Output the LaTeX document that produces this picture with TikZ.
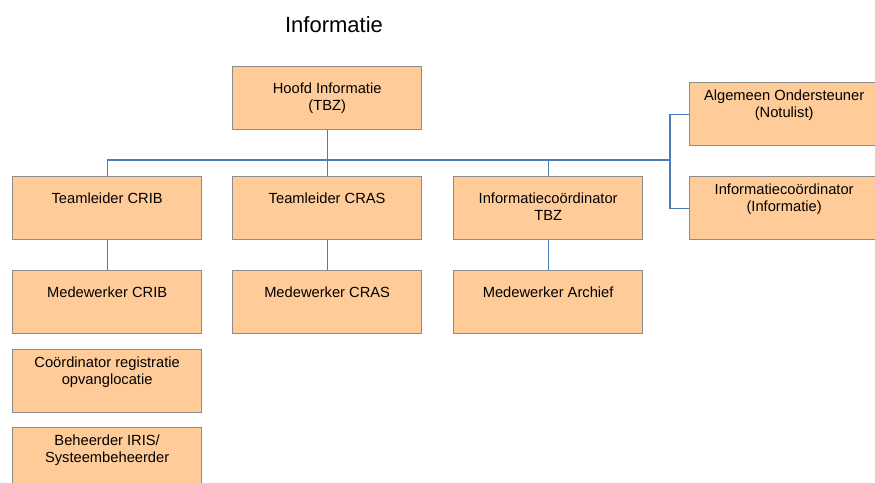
\documentclass[tikz,border=0pt]{standalone}
\usepackage{fontspec}
\setmainfont{Liberation Sans}
\definecolor{boxfill}{HTML}{FFCC99}
\definecolor{boxline}{HTML}{8C8C8C}
\definecolor{conncol}{HTML}{4A7EBB}
\tikzset{
  box/.style={draw=boxline, fill=boxfill, line width=1.3pt, minimum width=189pt,
    minimum height=63pt, anchor=north west, inner sep=0pt},
  txt/.style={anchor=north, inner sep=0pt, align=center,
    font=\fontsize{14.7}{17}\selectfont},
  t/.style={label={[txt, yshift=-16.5pt]north:#1}},
  th/.style={label={[txt, yshift=-7.5pt]north:#1}},
  conn/.style={draw=conncol, line width=1.2pt},
  title/.style={font=\fontsize{22}{26}\selectfont, inner sep=0pt}
}
\begin{document}
\begin{tikzpicture}[x=1pt, y=-1pt]
\useasboundingbox (0,0) rectangle (875,482);
\clip (0,0) rectangle (875,482);
\node[title] (ttl) at (334,25) {Informatie};
\node[box, t={Hoofd Informatie\\(TBZ)}] (hoofd) at (232,66) {};
\node[box, t={Teamleider CRIB}] (tlcrib) at (12,176) {};
\node[box, t={Teamleider CRAS}] (tlcras) at (232,176) {};
\node[box, t={Informatiecoördinator\\TBZ}] (tlinfo) at (453,176) {};
\node[box, th={Algemeen Ondersteuner\\(Notulist)}] (alg) at (689,82) {};
\node[box, th={Informatiecoördinator\\(Informatie)}] (ic) at (689,176) {};
\node[box, t={Medewerker CRIB}] (mcrib) at (12,270) {};
\node[box, t={Medewerker CRAS}] (mcras) at (232,270) {};
\node[box, t={Medewerker Archief}] (march) at (453,270) {};
\node[box, th={Coördinator registratie\\opvanglocatie}] (coord) at (12,349) {};
\node[box, th={Beheerder IRIS/\\Systeembeheerder}] (beh) at (12,427) {};
\coordinate (side) at (670,160);
\draw[conn] (hoofd.south) -- (tlcras.north);
\draw[conn] (tlcrib.north) |- (side);
\draw[conn] (tlinfo.north) -- (tlinfo.north |- side);
\draw[conn] (alg.west) -| (side) |- (ic.west);
\draw[conn] (tlcrib.south) -- (mcrib.north);
\draw[conn] (tlcras.south) -- (mcras.north);
\draw[conn] (tlinfo.south) -- (march.north);
\end{tikzpicture}
\end{document}
